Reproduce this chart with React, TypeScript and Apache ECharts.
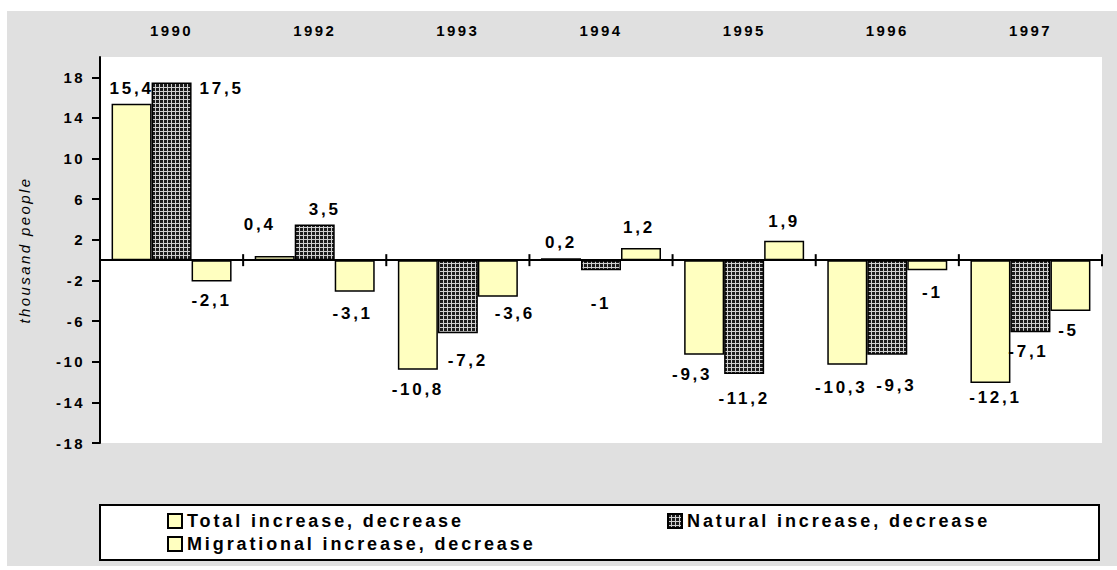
import React, { useEffect, useRef } from "react";
import * as echarts from "echarts";

// ---- data ----
const years = ["1990", "1992", "1993", "1994", "1995", "1996", "1997"];
const totalChange = [15.4, 0.4, -10.8, 0.2, -9.3, -10.3, -12.1];
const naturalChange = [17.5, 3.5, -7.2, -1, -11.2, -9.3, -7.1];
const migrationChange = [-2.1, -3.1, -3.6, 1.2, 1.9, -1, -5];
const yTicks = [-18, -14, -10, -6, -2, 2, 6, 10, 14, 18];
const seriesNames = [
  "Total increase, decrease",
  "Natural increase, decrease",
  "Migrational increase, decrease",
];

// ---- label nudges (style only, relative shifts of value labels) ----
const totalLabelNudge = [[0, 0], [-15, -16], [0, 0], [0, 0], [-12, 0], [-6, 3], [5, -5]];
const naturalLabelNudge = [[50, 22], [10, 0], [10, 8], [0, 14], [0, 5], [9, 11], [-2, 0]];
const migrationLabelNudge = [[0, 0], [-2, 2], [17, -3], [-2, -5], [0, -4], [5, 3], [-2, 0]];

const FONT = '"Liberation Sans", Arial, sans-serif';
const YELLOW = "#ffffc0";

export default function App() {
  const ref = useRef<HTMLDivElement>(null);

  useEffect(() => {
    const el = ref.current;
    if (!el) return;
    const chart = echarts.init(el, null, { renderer: "svg" });

    const cv = document.createElement("canvas");
    cv.width = 4;
    cv.height = 4;
    const ctx = cv.getContext("2d")!;
    ctx.fillStyle = "#cfcfcf";
    ctx.fillRect(0, 0, 4, 4);
    ctx.fillStyle = "#1c1c1c";
    ctx.fillRect(0, 0, 3, 3);
    const pattern: any = {
      image: cv.toDataURL(),
      repeat: "repeat",
      imageWidth: 4,
      imageHeight: 4,
    };

    const mkSeries = (name: string, values: number[], color: any, nudges: number[][]) => ({
      type: "bar",
      name,
      xAxisIndex: 0,
      barWidth: 40,
      barGap: "0%",
      itemStyle: { color, borderColor: "#000", borderWidth: 1.5 },
      label: {
        show: true,
        fontFamily: FONT,
        fontWeight: "bold",
        fontSize: 17,
        color: "#000",
        formatter: (p: any) => String(p.value).replace(".", ","),
      },
      data: values.map((v, i) => ({
        value: v,
        label: {
          position: v >= 0 ? "top" : "bottom",
          distance: v >= 0 ? 7 : 11,
          offset: nudges[i],
        },
      })),
    });

    // crossing tick marks on the zero line, at category boundaries
    const zeroTicks = {
      type: "custom",
      name: "zero-ticks",
      xAxisIndex: 0,
      yAxisIndex: 0,
      silent: true,
      clip: false,
      z: 5,
      tooltip: { show: false },
      encode: { x: 0, y: 1 },
      data: years.map((_, i) => [i, 0]),
      renderItem: (params: any, api: any) => {
        const c = api.coord([api.value(0), api.value(1)]);
        const w = api.size([1, 0])[0];
        const style = { stroke: "#000", lineWidth: 2 };
        const xs = [c[0] - w / 2];
        if (params.dataIndex === years.length - 1) xs.push(c[0] + w / 2);
        return {
          type: "group",
          children: xs.map((x) => ({
            type: "line",
            z2: 10,
            shape: { x1: x, y1: c[1] - 6, x2: x, y2: c[1] + 6 },
            style,
          })),
        };
      },
    };

    const legendCommon = {
      orient: "horizontal",
      padding: 0,
      itemWidth: 14,
      itemHeight: 14,
      itemGap: 0,
      icon: "rect",
      selectedMode: false,
      z: 5,
      textStyle: { fontFamily: FONT, fontWeight: "bold", fontSize: 18, color: "#000" },
    };

    const option: any = {
      animation: false,
      backgroundColor: "#ffffff",
      graphic: [
        {
          type: "rect",
          z: -100,
          silent: true,
          shape: { x: 7, y: 11, width: 1110, height: 555 },
          style: { fill: "#e0e0e0" },
        },
        {
          type: "rect",
          z: 1,
          silent: true,
          shape: { x: 100, y: 505, width: 999, height: 55 },
          style: { fill: "#ffffff", stroke: "#000", lineWidth: 2 },
        },
      ],
      grid: {
        left: 100,
        right: 15,
        top: 57,
        bottom: 127,
        show: true,
        backgroundColor: "#ffffff",
        borderWidth: 0,
      },
      legend: [
        { ...legendCommon, data: [seriesNames[0]], left: 167, top: 512 },
        { ...legendCommon, data: [seriesNames[1]], left: 667, top: 512 },
        { ...legendCommon, data: [seriesNames[2]], left: 167, top: 535 },
      ],
      xAxis: [
        {
          type: "category",
          data: years,
          position: "bottom",
          axisLine: { show: true, onZero: true, lineStyle: { color: "#000", width: 2 } },
          axisTick: { show: false },
          axisLabel: { show: false },
          splitLine: { show: false },
        },
        {
          type: "category",
          data: years,
          position: "top",
          axisLine: { show: false, onZero: false },
          axisTick: { show: false },
          axisLabel: {
            interval: 0,
            margin: 19,
            fontFamily: FONT,
            fontWeight: "bold",
            fontSize: 15,
            color: "#000",
          },
          splitLine: { show: false },
        },
      ],
      yAxis: {
        type: "value",
        min: -18,
        max: 20,
        name: "thousand people",
        nameLocation: "middle",
        nameGap: 68,
        nameTextStyle: { fontFamily: FONT, fontStyle: "italic", fontSize: 15, color: "#000" },
        axisLine: { show: true, onZero: false, lineStyle: { color: "#000", width: 2 } },
        axisTick: { show: true, length: 8, lineStyle: { color: "#000", width: 2 }, customValues: yTicks },
        axisLabel: {
          customValues: yTicks,
          fontFamily: FONT,
          fontWeight: "bold",
          fontSize: 15,
          color: "#000",
          margin: 15,
        },
        splitLine: { show: false },
      },
      series: [
        mkSeries(seriesNames[0], totalChange, YELLOW, totalLabelNudge),
        mkSeries(seriesNames[1], naturalChange, pattern, naturalLabelNudge),
        mkSeries(seriesNames[2], migrationChange, YELLOW, migrationLabelNudge),
        zeroTicks,
      ],
    };

    chart.setOption(option);
    return () => chart.dispose();
  }, []);

  return (
    <>
      <style>{`#chart-root text { letter-spacing: 0.16em; }`}</style>
      <div
        id="chart-root"
        ref={ref}
        style={{ position: "absolute", left: 0, top: 0, width: 1117, height: 570 }}
      />
    </>
  );
}
